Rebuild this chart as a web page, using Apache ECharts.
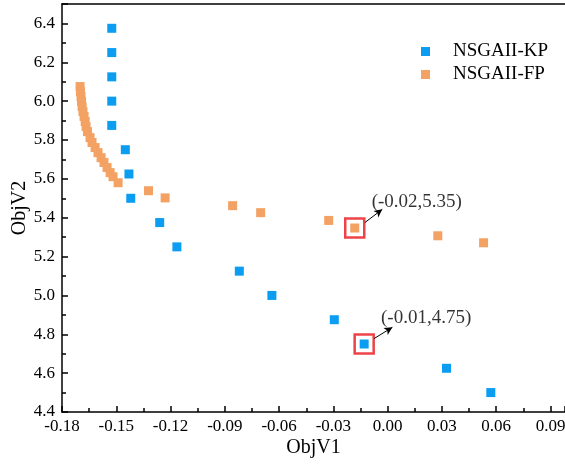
<!DOCTYPE html>
<html>
<head>
    <meta charset="utf-8">
    <script src="https://cdn.jsdelivr.net/npm/echarts@6/dist/echarts.min.js"></script>
</head>
<body style="margin:0">
    <div id="main" style="width: 565px;height:466px;"></div>
    <script type="text/javascript">

    var xTicks = {min: -0.18, max: 0.098, interval: 0.03};
    var yTicks = {min: 4.4, max: 6.5, interval: 0.2};

    var kpData = [
        [-0.1525, 6.375], [-0.1525, 6.25], [-0.1525, 6.125], [-0.1525, 6.0], [-0.1525, 5.875],
        [-0.145, 5.75], [-0.143, 5.625], [-0.142, 5.5], [-0.126, 5.375], [-0.1165, 5.25],
        [-0.082, 5.125], [-0.064, 5.0], [-0.0295, 4.875], [-0.013, 4.75], [0.0325, 4.625], [0.057, 4.5]
    ];

    var fpData = [
        [-0.1700, 6.075], [-0.1698, 6.049], [-0.1695, 6.024], [-0.1692, 5.998], [-0.1689, 5.972],
        [-0.1684, 5.946], [-0.1678, 5.921], [-0.1672, 5.895], [-0.1667, 5.869], [-0.1659, 5.843],
        [-0.1645, 5.812], [-0.1634, 5.787], [-0.1617, 5.761], [-0.1601, 5.735], [-0.1584, 5.709],
        [-0.1568, 5.684], [-0.1551, 5.658], [-0.1534, 5.632], [-0.1518, 5.611], [-0.1490, 5.580],
        [-0.1322, 5.539], [-0.123, 5.502], [-0.0857, 5.462], [-0.0702, 5.426], [-0.0326, 5.386],
        [-0.0182, 5.347], [0.0277, 5.307], [0.053, 5.271]
    ];

    // highlighted points and their text
    var highlights = [
        {value: [-0.0182, 5.347], text: '(-0.02,5.35)'},
        {value: [-0.013, 4.75], text: '(-0.01,4.75)'}
    ];
    // arrows: [from, to] in data space
    var arrows = [
        [[-0.0126, 5.375], [-0.0030, 5.443]],
        [[-0.0075, 4.778], [0.0026, 4.836]]
    ];

    var font = "'Liberation Serif', 'Times New Roman', serif";
    var lineStyle = {color: '#000', width: 1.5};

    var myChart = echarts.init(document.getElementById('main'));

    myChart.setOption({
        animation: false,
        textStyle: {fontFamily: font},
        grid: {left: 62, right: 0, top: 4, bottom: 54, outerBoundsMode: 'none', containLabel: false},
        legend: {
            orient: 'vertical',
            left: 416,
            top: 37,
            itemWidth: 9,
            itemHeight: 9,
            itemGap: 4,
            textStyle: {fontFamily: font, fontSize: 19, color: '#000', padding: [0, 0, 0, 18]},
            data: ['NSGAII-KP', 'NSGAII-FP']
        },
        xAxis: [{
            type: 'value',
            min: xTicks.min,
            max: xTicks.max,
            interval: xTicks.interval,
            name: 'ObjV1',
            nameLocation: 'middle',
            nameGap: 26,
            nameMoveOverlap: false,
            nameTextStyle: {fontFamily: font, fontSize: 20, color: '#000'},
            splitLine: {show: false},
            axisLine: {onZero: false, lineStyle: lineStyle},
            axisTick: {inside: true, length: 6, lineStyle: lineStyle},
            minorTick: {show: true, splitNumber: 2, length: 4, lineStyle: lineStyle},
            axisLabel: {
                showMaxLabel: false,
                margin: 6,
                fontFamily: font, fontSize: 17, color: '#000',
                formatter: function (v) { return v.toFixed(2); }
            }
        }, {
            type: 'value',
            position: 'top',
            min: xTicks.min,
            max: xTicks.max,
            splitLine: {show: false},
            axisLine: {show: true, onZero: false, lineStyle: lineStyle},
            axisTick: {show: false},
            axisLabel: {show: false}
        }],
        yAxis: {
            type: 'value',
            min: yTicks.min,
            max: yTicks.max,
            interval: yTicks.interval,
            name: 'ObjV2',
            nameLocation: 'middle',
            nameGap: 32,
            nameMoveOverlap: false,
            nameTextStyle: {fontFamily: font, fontSize: 20, color: '#000'},
            splitLine: {show: false},
            axisLine: {onZero: false, lineStyle: lineStyle},
            axisTick: {inside: true, length: 6, lineStyle: lineStyle},
            minorTick: {show: true, splitNumber: 2, length: 4, lineStyle: lineStyle},
            axisLabel: {
                showMaxLabel: false,
                margin: 7,
                fontFamily: font, fontSize: 17, color: '#000',
                formatter: function (v) { return v.toFixed(1); }
            }
        },
        series: [
            {
                name: 'NSGAII-KP',
                type: 'scatter',
                symbol: 'rect',
                symbolSize: 9,
                itemStyle: {color: '#0a9df2', opacity: 1},
                data: kpData,
                z: 3
            },
            {
                name: 'NSGAII-FP',
                type: 'scatter',
                symbol: 'rect',
                symbolSize: 9,
                itemStyle: {color: '#f3a263', opacity: 1},
                data: fpData,
                z: 2
            },
            {
                name: 'highlight',
                type: 'scatter',
                symbol: 'rect',
                symbolSize: 19,
                itemStyle: {color: 'rgba(0,0,0,0)', borderColor: '#e8141a', borderWidth: 2.5},
                label: {
                    show: true,
                    position: 'inside',
                    offset: [62, -26],
                    fontFamily: font,
                    fontSize: 19,
                    color: '#000',
                    formatter: function (p) { return p.data.text; }
                },
                emphasis: {disabled: true},
                data: highlights,
                markLine: {
                    silent: true,
                    symbol: ['none', 'arrow'],
                    symbolSize: [6, 8],
                    lineStyle: {color: '#000', width: 1, type: 'solid'},
                    label: {show: false},
                    data: arrows.map(function (a) {
                        return [{coord: a[0]}, {coord: a[1]}];
                    })
                },
                z: 4
            }
        ]
    });
    </script>
</body>
</html>
